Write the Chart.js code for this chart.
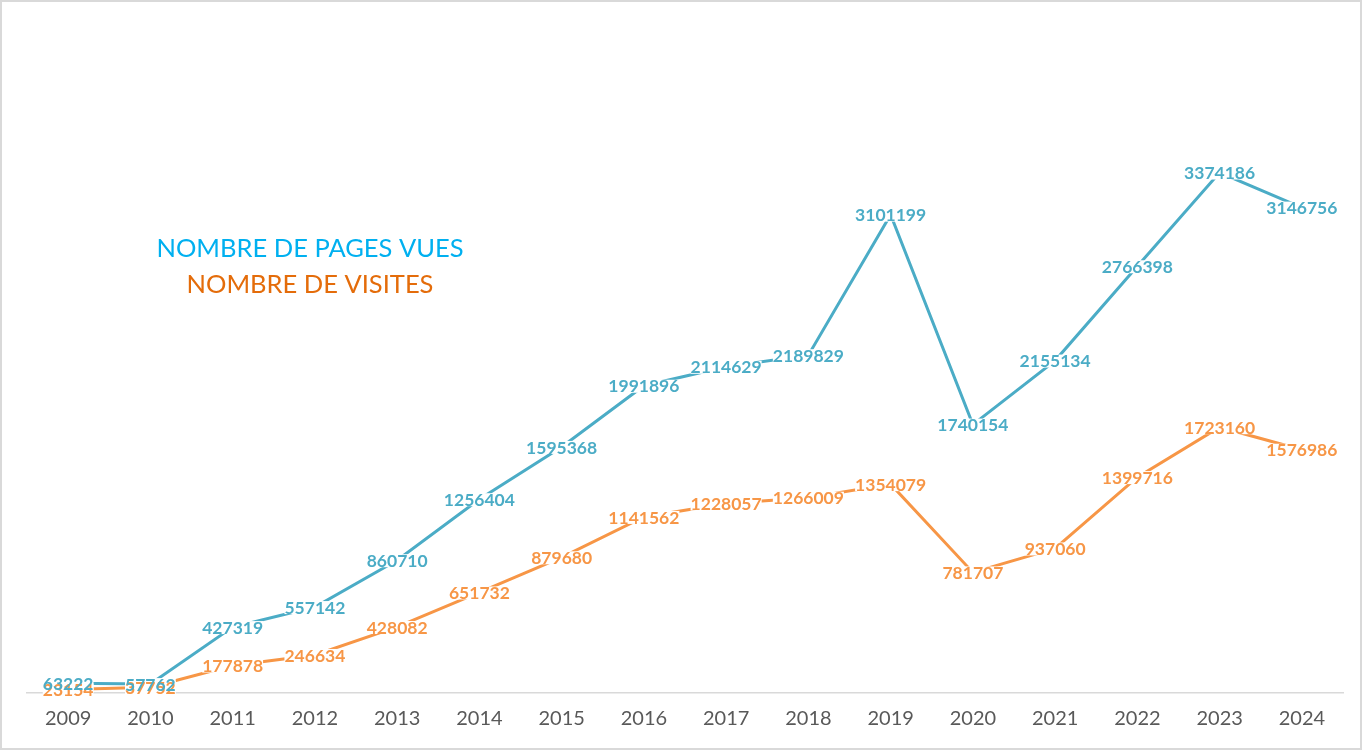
<!DOCTYPE html>
<html>
<head>
<meta charset="utf-8">
<script src="https://cdn.jsdelivr.net/npm/chart.js@4/dist/chart.umd.min.js"></script>
<style>
    html, body { margin: 0; padding: 0; background: #fff; }
    #wrap { width: 1362px; height: 750px; position: relative; }
</style>
</head>
<body>
<div id="wrap"><canvas id="chart" width="1362" height="750"></canvas></div>
<script>
const years = ['2009', '2010', '2011', '2012', '2013', '2014', '2015', '2016',
    '2017', '2018', '2019', '2020', '2021', '2022', '2023', '2024'];
const pagesVues = [63222, 57762, 427319, 557142, 860710, 1256404, 1595368, 1991896,
    2114629, 2189829, 3101199, 1740154, 2155134, 2766398, 3374186, 3146756];
const visites = [23154, 37752, 177878, 246634, 428082, 651732, 879680, 1141562,
    1228057, 1266009, 1354079, 781707, 937060, 1399716, 1723160, 1576986];
const legendLines = ['NOMBRE DE PAGES VUES', 'NOMBRE DE VISITES'];

const blueLine = '#4BACC6';
const orangeLine = '#F79646';
const legendColors = ['#00B0F0', '#E46C0A'];

// labels centred on each point, white box behind like the excel export
const pointLabels = {
    id: 'pointLabels',
    afterDatasetsDraw(chart) {
        const ctx = chart.ctx;
        ctx.save();
        ctx.font = 'bold 17.5px Lato, sans-serif';
        ctx.textAlign = 'center';
        ctx.textBaseline = 'middle';
        // boxes first, then all texts, so overlapping labels both stay readable
        [1, 0].forEach(i => {
            const ds = chart.data.datasets[i];
            chart.getDatasetMeta(i).data.forEach((pt, j) => {
                const w = ctx.measureText(String(ds.data[j])).width;
                ctx.fillStyle = '#fff';
                ctx.fillRect(pt.x - w / 2, pt.y - 6, w, 13);
            });
        });
        [1, 0].forEach(i => {
            const ds = chart.data.datasets[i];
            chart.getDatasetMeta(i).data.forEach((pt, j) => {
                ctx.fillStyle = ds.borderColor;
                ctx.fillText(String(ds.data[j]), pt.x, pt.y + 1);
            });
        });
        ctx.restore();
    }
};

const textLegend = {
    id: 'textLegend',
    afterDraw(chart) {
        const ctx = chart.ctx;
        ctx.save();
        ctx.font = '25.5px Lato, sans-serif';
        ctx.textAlign = 'center';
        ctx.textBaseline = 'middle';
        legendLines.forEach((t, i) => {
            ctx.fillStyle = legendColors[i];
            ctx.fillText(t, 310, 249 + i * 36);
        });
        // outer frame
        ctx.strokeStyle = '#D9D9D9';
        ctx.lineWidth = 2;
        ctx.strokeRect(1, 1, 1360, 748);
        ctx.restore();
    }
};

new Chart(document.getElementById('chart'), {
    type: 'line',
    data: {
        labels: years,
        datasets: [{
            label: 'Nombre de pages vues',
            data: pagesVues,
            borderColor: blueLine,
            borderWidth: 3,
            pointRadius: 0,
            tension: 0
        }, {
            label: 'Nombre de visites',
            data: visites,
            borderColor: orangeLine,
            borderWidth: 3,
            pointRadius: 0,
            tension: 0
        }]
    },
    options: {
        responsive: false,
        animation: false,
        layout: { padding: { left: 27, right: 19, top: 76, bottom: 5 } },
        plugins: {
            legend: { display: false },
            tooltip: { enabled: false }
        },
        scales: {
            x: {
                offset: true,
                grid: { display: false, drawTicks: false },
                border: { display: true, color: '#D9D9D9', width: 1.5 },
                ticks: {
                    color: '#595959',
                    font: { family: 'Lato, sans-serif', size: 20 },
                    padding: 14
                }
            },
            y: {
                display: false,
                min: 0,
                max: 4000000
            }
        }
    },
    plugins: [pointLabels, textLegend]
});
</script>
</body>
</html>
